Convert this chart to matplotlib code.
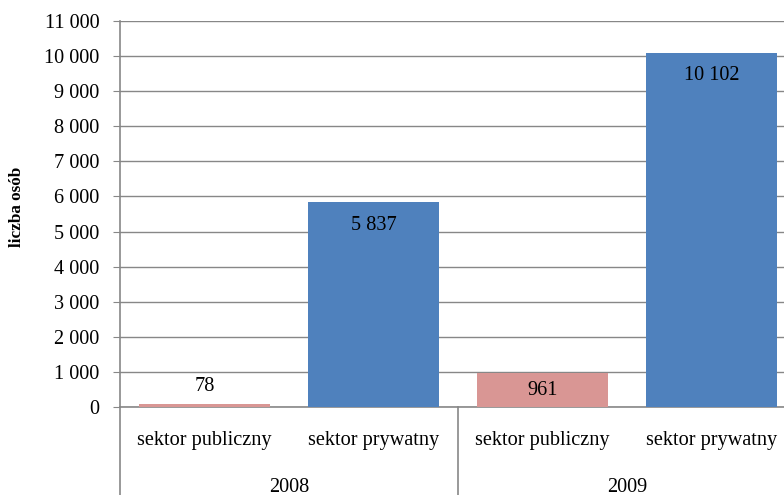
import matplotlib.pyplot as plt
from matplotlib.ticker import FuncFormatter
import matplotlib.transforms as mtransforms

# data
years = ["2008", "2009"]
sectors = ["sektor publiczny", "sektor prywatny"]
values = [78, 5837, 961, 10102]
colors = ["#D99694", "#4F81BD", "#D99694", "#4F81BD"]
y_ticks = list(range(0, 11001, 1000))

plt.rcParams['font.family'] = ['Liberation Serif', 'DejaVu Serif']
fs = 14.6
grid_col = '#878787'

fig = plt.figure(figsize=(7.84, 4.95), dpi=100)
ax = fig.add_axes([120 / 784, 88 / 495, 676 / 784, 386 / 495])

x = list(range(len(values)))
bars = ax.bar(x, values, width=0.78, color=colors, zorder=3)

ax.set_xlim(-0.5, len(values) - 0.5)
ax.set_ylim(0, 11000)
ax.set_yticks(y_ticks)
ax.yaxis.set_major_formatter(FuncFormatter(lambda v, p: f"{int(v):,}".replace(",", " ")))
ax.tick_params(axis='y', labelsize=fs, length=5, color=grid_col, pad=10)
ax.set_xticks([])
ax.grid(axis='y', color=grid_col, linewidth=1, zorder=0)
for s in ['top', 'right']:
    ax.spines[s].set_visible(False)
for s in ['left', 'bottom']:
    ax.spines[s].set_color(grid_col)
    ax.spines[s].set_linewidth(1.2)

ax.set_ylabel("liczba osób", fontsize=12.3, fontweight='bold')
ax.yaxis.set_label_coords(-95 / 676, 200 / 386)

# value labels
for b, v in zip(bars, values):
    label = f"{v:,}".replace(",", " ")
    cx = b.get_x() + b.get_width() / 2
    if v < 500:
        ax.annotate(label, (cx, v), xytext=(0, 6), textcoords='offset points',
                    ha='center', va='bottom', fontsize=fs)
    elif v < 1500:
        ax.annotate(label, (cx, v / 2), ha='center', va='center', fontsize=fs)
    else:
        ax.annotate(label, (cx, v), xytext=(0, -10), textcoords='offset points',
                    ha='center', va='top', fontsize=fs)

# two-level category axis
trans = mtransforms.blended_transform_factory(ax.transData, ax.transAxes)
n_sec = len(sectors)
for i, v in enumerate(values):
    ax.text(i, -33 / 386, sectors[i % n_sec], transform=trans,
            ha='center', va='center', fontsize=fs)
for g, yr in enumerate(years):
    center = g * n_sec + (n_sec - 1) / 2
    ax.text(center, -81 / 386, yr, transform=trans,
            ha='center', va='center', fontsize=fs)
for g in range(len(years) + 1):
    xs = g * n_sec - 0.5
    ax.plot([xs, xs], [0, -90 / 386], transform=trans, color=grid_col,
            linewidth=1.2, clip_on=False)

fig.savefig("out.png", dpi=100)
